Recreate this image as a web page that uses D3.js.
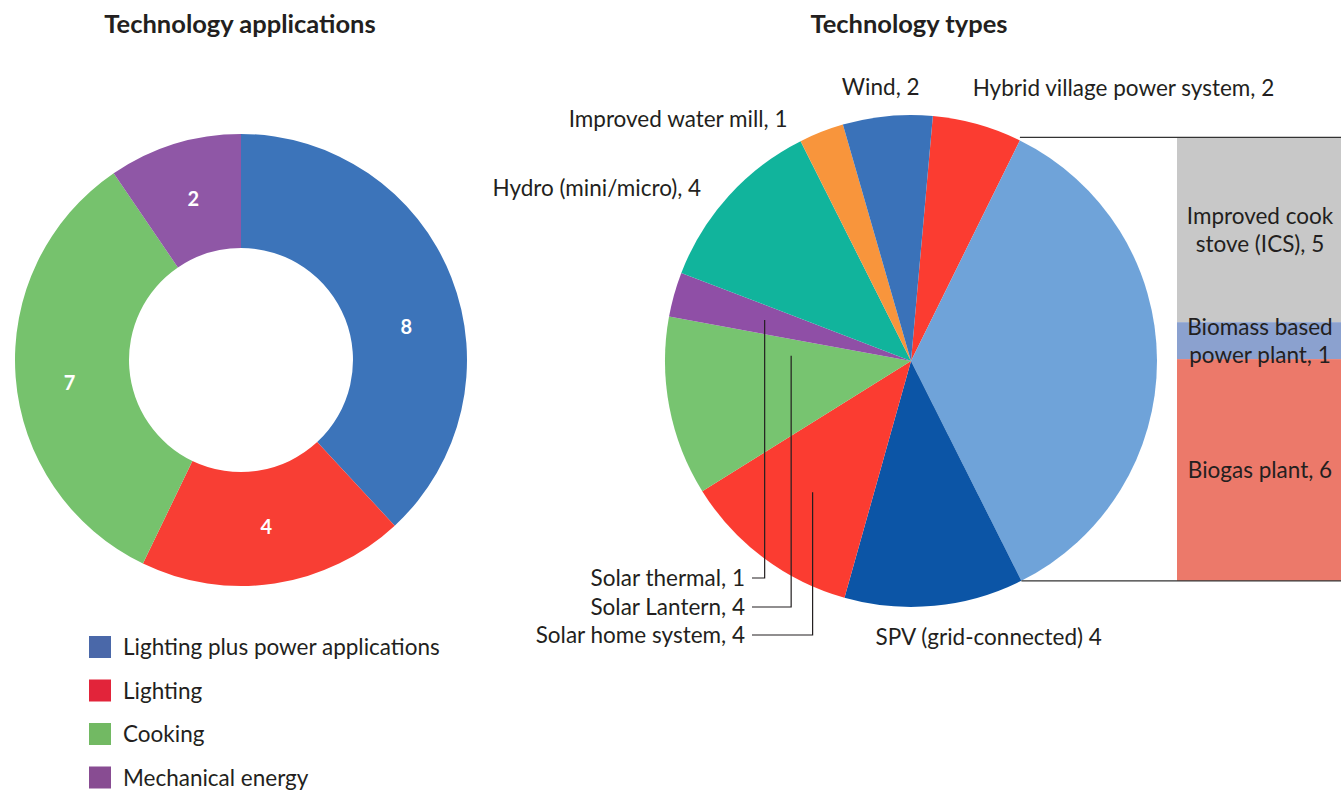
<!DOCTYPE html>
<html>
<head>
<meta charset="utf-8">
<script src="https://cdn.jsdelivr.net/npm/d3@7"></script>
<style>
  body { margin: 0; background: #fff; }
  svg text { font-family: Lato, "Open Sans", sans-serif; fill: #231f20; }
</style>
</head>
<body>
<svg id="chart" width="1341" height="791"></svg>
<script>
// left donut: technology applications
const appNames = ['Lighting plus power applications', 'Lighting', 'Cooking', 'Mechanical energy'];
const appValues = [8, 4, 7, 2];
const appColors = ['#3c74ba', '#f83e34', '#76c26d', '#8f57a6'];
const appLegendColors = ['#4a68a9', '#e2243a', '#72b963', '#884c92'];

// right pie: technology types (the "Biomass" group is split out into the bar)
const typeNames = ['Hybrid village power system, 2', 'Biomass', 'SPV (grid-connected) 4', 'Solar home system, 4',
  'Solar Lantern, 4', 'Solar thermal, 1', 'Hydro (mini/micro), 4', 'Improved water mill, 1', 'Wind, 2'];
const typeValues = [2, 12, 4, 4, 4, 1, 4, 1, 2];
const typeColors = ['#fb3c31', '#6fa3d9', '#0c55a6', '#fb3c31', '#77c470', '#8f4fa6', '#11b49c', '#f8953c', '#3a72b9'];

// bar of pie
const barNames = [['Improved cook', 'stove (ICS), 5'], ['Biomass based', 'power plant, 1'], ['Biogas plant, 6']];
const barValues = [5, 1, 6];
const barColors = ['#c8c8c8', '#8ba1cf', '#ec796a'];

const fs = '22.5px';
const svg = d3.select('#chart');

// titles
svg.append('text').attr('x', 240).attr('y', 33).attr('text-anchor', 'middle')
  .style('font-weight', 'bold').style('font-size', '25.5px').text('Technology applications');
svg.append('text').attr('x', 909).attr('y', 33).attr('text-anchor', 'middle')
  .style('font-weight', 'bold').style('font-size', '25.5px').text('Technology types');

// ---------- donut ----------
const donut = svg.append('g').attr('transform', 'translate(241,360)');
const donutPie = d3.pie().sort(null).value(d => d);
const donutArc = d3.arc().innerRadius(112).outerRadius(226);
const labelArc = d3.arc().innerRadius(169).outerRadius(169);
const dArcs = donutPie(appValues);

donut.selectAll('path')
  .data(dArcs)
  .join('path')
  .attr('d', donutArc)
  .attr('fill', (d, i) => appColors[i]);

// the big blue label sits a bit lower than its centroid in the original
const labelShift = [[8, 29], [0, 0], [-3, 10], [2, 0]];
donut.selectAll('text')
  .data(dArcs)
  .join('text')
  .attr('transform', (d, i) => {
    const c = labelArc.centroid(d);
    return 'translate(' + (c[0] + labelShift[i][0]) + ',' + (c[1] + labelShift[i][1]) + ')';
  })
  .attr('text-anchor', 'middle')
  .attr('dy', '0.36em')
  .style('fill', '#fff')
  .style('font-weight', 'bold')
  .style('font-size', '20px')
  .text(d => d.data);

// legend
const legend = svg.append('g').attr('transform', 'translate(89,636)');
legend.selectAll('rect')
  .data(appNames)
  .join('rect')
  .attr('x', 0)
  .attr('y', (d, i) => i * 43.5)
  .attr('width', 22)
  .attr('height', 22)
  .attr('fill', (d, i) => appLegendColors[i]);
legend.selectAll('text')
  .data(appNames)
  .join('text')
  .attr('x', 34)
  .attr('y', (d, i) => i * 43.5 + 11)
  .attr('dy', '0.36em')
  .style('font-size', fs)
  .text(d => d);

// ---------- pie ----------
const cx = 911, cy = 361, R = 246;
const start = 5.1 * Math.PI / 180;
const pie = svg.append('g').attr('transform', `translate(${cx},${cy})`);
const typePie = d3.pie().sort(null).value(d => d).startAngle(start).endAngle(start + 2 * Math.PI);
const tArcs = typePie(typeValues);
const arc = d3.arc().innerRadius(0).outerRadius(R);

pie.selectAll('path')
  .data(tArcs)
  .join('path')
  .attr('d', arc)
  .attr('fill', (d, i) => typeColors[i]);

const polar = (a, r) => [r * Math.sin(a), -r * Math.cos(a)];

// outside labels (top of pie)
const outside = [
  { i: 0, r: 280, anchor: 'start', dx: -14, dy: -4 },
  { i: 8, r: 275, anchor: 'middle', dx: -4, dy: 0 },
  { i: 7, r: 262, anchor: 'end', dx: -28, dy: 2 },
  { i: 6, r: 275, anchor: 'end', dx: -6, dy: 11 }
];
outside.forEach(o => {
  const a = tArcs[o.i];
  const p = polar((a.startAngle + a.endAngle) / 2, o.r);
  pie.append('text')
    .attr('x', p[0] + o.dx)
    .attr('y', p[1] + o.dy)
    .attr('dy', '0.36em')
    .attr('text-anchor', o.anchor)
    .style('font-size', fs)
    .text(typeNames[o.i]);
});

// SPV label under the pie
{
  const a = tArcs[2];
  const p = polar((a.startAngle + a.endAngle) / 2, 290);
  pie.append('text')
    .attr('x', p[0] + 50).attr('y', 276).attr('dy', '0.36em')
    .attr('text-anchor', 'middle').style('font-size', fs)
    .text(typeNames[2]);
}

// leader labels (solar thermal, lantern, home system)
const leaders = [
  { i: 5, r: 152, y: 217 },
  { i: 4, r: 122, y: 246 },
  { i: 3, r: 164, y: 274 }
];
leaders.forEach(l => {
  const a = tArcs[l.i];
  const p = polar((a.startAngle + a.endAngle) / 2, l.r);
  pie.append('path')
    .attr('d', `M${-159},${l.y}H${p[0]}V${p[1] - (l.i === 4 ? 28 : 0)}`)
    .attr('fill', 'none')
    .attr('stroke', '#231f20')
    .attr('stroke-width', 1.2);
  pie.append('text')
    .attr('x', -166).attr('y', l.y).attr('dy', '0.36em')
    .attr('text-anchor', 'end').style('font-size', fs)
    .text(typeNames[l.i]);
});

// ---------- bar of pie ----------
const group = tArcs[1];
const pTop = polar(group.startAngle, R);
const pBot = polar(group.endAngle, R);
const barTop = cy + pTop[1] - 3;
const barBot = cy + pBot[1];
const barX = 1177, barW = 168;

const y = d3.scaleLinear().domain([0, d3.sum(barValues)]).range([barTop, barBot]);
const cum = d3.cumsum(barValues);
const bar = svg.append('g');
bar.selectAll('rect')
  .data(barValues)
  .join('rect')
  .attr('x', barX)
  .attr('width', barW)
  .attr('y', (d, i) => y(cum[i] - d))
  .attr('height', d => y(d) - y(0))
  .attr('fill', (d, i) => barColors[i]);

bar.selectAll('text')
  .data(barValues)
  .join('text')
  .attr('x', barX + barW / 2 - 1)
  .attr('y', (d, i) => y(cum[i] - d / 2))
  .attr('text-anchor', 'middle')
  .style('font-size', fs)
  .each(function (d, i) {
    const lines = barNames[i];
    const t = d3.select(this);
    lines.forEach((s, k) => {
      t.append('tspan')
        .attr('x', barX + barW / 2 - 1)
        .attr('dy', k === 0 ? ((0.36 - (lines.length - 1) * 0.62) + 'em') : '1.24em')
        .text(s);
    });
  });

// connector lines
svg.append('line')
  .attr('x1', cx + pTop[0]).attr('y1', barTop)
  .attr('x2', 1341).attr('y2', barTop)
  .attr('stroke', '#333').attr('stroke-width', 1.2);
svg.append('line')
  .attr('x1', cx + pBot[0]).attr('y1', barBot)
  .attr('x2', 1341).attr('y2', barBot)
  .attr('stroke', '#333').attr('stroke-width', 1.2);
</script>
</body>
</html>
